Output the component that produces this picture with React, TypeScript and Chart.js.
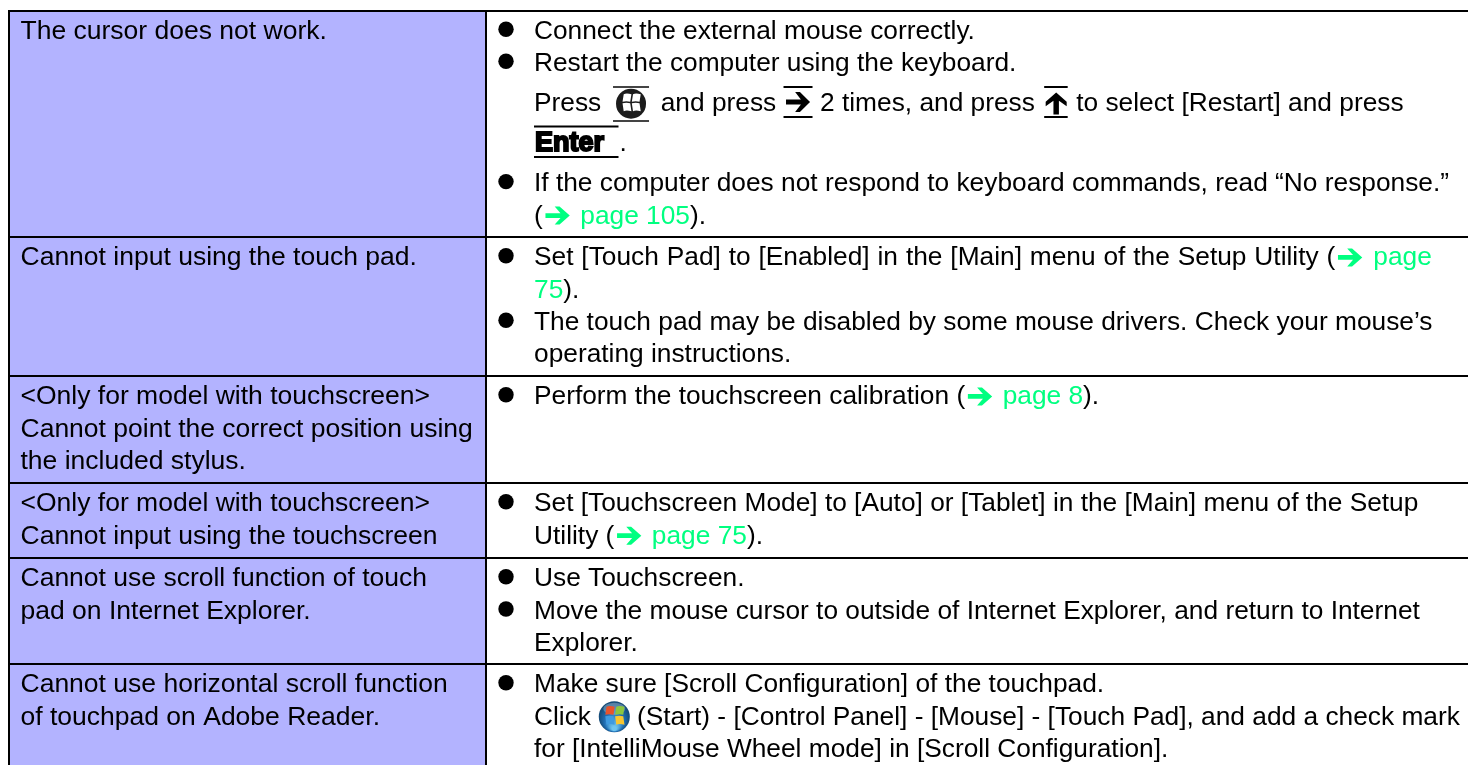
import React, { useEffect, useRef } from "react";
import { Chart, registerables } from "chart.js";

Chart.register(...registerables);

// ---- table content -----------------------------------------------------
const columnEdges = [9, 486, 1468];
const rowEdges = [11, 237, 376, 483, 558, 664, 765];

const problems: string[][] = [
  ["The cursor does not work."],
  ["Cannot input using the touch pad."],
  ["<Only for model with touchscreen>", "Cannot point the correct position using", "the included stylus."],
  ["<Only for model with touchscreen>", "Cannot input using the touchscreen"],
  ["Cannot use scroll function of touch", "pad on Internet Explorer."],
  ["Cannot use horizontal scroll function", "of touchpad on Adobe Reader."],
];

// "* " marks a bulleted line. {x} marks an inline symbol or a coloured run.
const remedies: string[][] = [
  [
    "* Connect the external mouse correctly.",
    "* Restart the computer using the keyboard.",
    "Press {win}and press {right}2 times, and press {up}to select [Restart] and press",
    "{enter}.",
    "* If the computer does not respond to keyboard commands, read “No response.”",
    "({arrow}{g: page 105}).",
  ],
  [
    "* Set [Touch Pad] to [Enabled] in the [Main] menu of the Setup Utility ({arrow}{g: page}",
    "{g:75}).",
    "* The touch pad may be disabled by some mouse drivers. Check your mouse’s",
    "operating instructions.",
  ],
  ["* Perform the touchscreen calibration ({arrow}{g: page 8})."],
  [
    "* Set [Touchscreen Mode] to [Auto] or [Tablet] in the [Main] menu of the Setup",
    "Utility ({arrow}{g: page 75}).",
  ],
  [
    "* Use Touchscreen.",
    "* Move the mouse cursor to outside of Internet Explorer, and return to Internet",
    "Explorer.",
  ],
  [
    "* Make sure [Scroll Configuration] of the touchpad.",
    "Click {start}(Start) - [Control Panel] - [Mouse] - [Touch Pad], and add a check mark",
    "for [IntelliMouse Wheel mode] in [Scroll Configuration].",
  ],
];

// ---- styling / layout ---------------------------------------------------
const W = 1468;
const H = 765;
const FONT = "26.3px 'Liberation Sans', Arial, sans-serif";
const LEFT_FONT = "26.5px 'Liberation Sans', Arial, sans-serif";
const PURPLE = "#b3b3ff";
const GREEN = "#00ff80";
const LINE_STEP = 32.3;
const FIRST_BASELINE = 28.4;
const TEXT_LEFT = 20.5;
const BULLET_X = 506;
const BODY_LEFT = 534;
const BULLET_LIFT = 9.7;
// first row has taller lines around the keyboard symbols
const FIRST_ROW_BASELINES = [39, 71, 111, 151, 191.3, 223.6];
// this one line is set wider in the reference
const WIDE_LINE = { row: 1, line: 0, wordSpacing: "0.58px" };

const ARROW: [number, number][] = [
  [0, 0.37], [0.62, 0.37], [0.38, 0], [0.58, 0], [1, 0.5], [0.58, 1], [0.38, 1], [0.62, 0.63], [0, 0.63],
];

function arrowPath(ctx: CanvasRenderingContext2D, x: number, y: number, w: number, h: number, up: boolean) {
  ctx.beginPath();
  ARROW.forEach(([u, v], i) => {
    const px = up ? x + v * w : x + u * w;
    const py = up ? y + (1 - u) * h : y + v * h;
    if (i === 0) ctx.moveTo(px, py);
    else ctx.lineTo(px, py);
  });
  ctx.closePath();
  ctx.fill();
}

function hRule(ctx: CanvasRenderingContext2D, x0: number, x1: number, y: number, h = 2) {
  ctx.fillRect(x0, y - h / 2, x1 - x0, h);
}

function pane(ctx: CanvasRenderingContext2D, cx: number, cy: number, sx: number, sy: number, s: number, fill: string) {
  ctx.fillStyle = fill;
  ctx.beginPath();
  ctx.moveTo(cx + sx * 0.8, cy + sy * 0.8 - 1.2);
  ctx.quadraticCurveTo(cx + sx * s * 0.55, cy + sy * 0.8 - 2.2, cx + sx * s, cy + sy * 0.8 - 1.2);
  ctx.lineTo(cx + sx * s + 1.2, cy + sy * s - 1);
  ctx.quadraticCurveTo(cx + sx * s * 0.55, cy + sy * s - 2.2, cx + sx * 0.8 + 1.2, cy + sy * s - 1);
  ctx.closePath();
  ctx.fill();
}

function drawWinKey(ctx: CanvasRenderingContext2D, x: number, base: number) {
  const cx = x + 18;
  const cy = base - 7.3;
  ctx.fillStyle = "#444";
  hRule(ctx, x, x + 36, base - 24);
  hRule(ctx, x, x + 36, base + 10);
  ctx.fillStyle = "#1c1c1c";
  ctx.beginPath();
  ctx.arc(cx, cy, 15, 0, Math.PI * 2);
  ctx.fill();
  for (const [sx, sy] of [[-1, -1], [1, -1], [-1, 1], [1, 1]]) pane(ctx, cx, cy, sx, sy, 8.5, "#fff");
  ctx.fillStyle = "#000";
}

function drawStartOrb(ctx: CanvasRenderingContext2D, x: number, base: number) {
  const cx = x + 16;
  const cy = base - 8;
  const g = ctx.createRadialGradient(cx, cy + 12, 2, cx, cy, 16);
  g.addColorStop(0, "#6fc6f0");
  g.addColorStop(0.55, "#1f6fb5");
  g.addColorStop(1, "#13466f");
  ctx.fillStyle = g;
  ctx.beginPath();
  ctx.arc(cx, cy, 15.5, 0, Math.PI * 2);
  ctx.fill();
  ctx.fillStyle = "rgba(255,255,255,0.28)";
  ctx.beginPath();
  ctx.ellipse(cx, cy - 8, 11, 6, 0, 0, Math.PI * 2);
  ctx.fill();
  pane(ctx, cx, cy, -1, -1, 9, "#e8532b");
  pane(ctx, cx, cy, 1, -1, 9, "#8cc63f");
  pane(ctx, cx, cy, -1, 1, 9, "#3f9be0");
  pane(ctx, cx, cy, 1, 1, 9, "#f8c630");
  ctx.fillStyle = "#000";
}

// draws one line of text with its inline tokens
function drawRich(ctx: CanvasRenderingContext2D, raw: string, startX: number, base: number) {
  let x = startX;
  const parts = raw.split(/(\{[^}]*\})/).filter(Boolean);
  for (const part of parts) {
    if (!part.startsWith("{")) {
      ctx.fillStyle = "#000";
      ctx.fillText(part, x, base);
      x += ctx.measureText(part).width;
      continue;
    }
    const tok = part.slice(1, -1);
    if (tok.startsWith("g:")) {
      const t = tok.slice(2);
      ctx.fillStyle = GREEN;
      ctx.fillText(t, x, base);
      x += ctx.measureText(t).width;
      ctx.fillStyle = "#000";
    } else if (tok === "arrow") {
      ctx.fillStyle = GREEN;
      arrowPath(ctx, x + 2.7, base - 17, 24.3, 18, false);
      x += 30.2;
      ctx.fillStyle = "#000";
    } else if (tok === "win") {
      drawWinKey(ctx, x + 4.5, base);
      x += 52.2;
    } else if (tok === "right") {
      ctx.fillStyle = "#000";
      hRule(ctx, x, x + 29, base - 24);
      hRule(ctx, x, x + 29, base + 6);
      arrowPath(ctx, x + 2.5, base - 19, 24, 20, false);
      x += 36.5;
    } else if (tok === "up") {
      ctx.fillStyle = "#000";
      hRule(ctx, x + 2, x + 25.5, base - 24);
      hRule(ctx, x + 2, x + 25.5, base + 6);
      arrowPath(ctx, x + 3.5, base - 18.5, 21, 22, true);
      x += 34;
    } else if (tok === "enter") {
      ctx.fillStyle = "#000";
      hRule(ctx, x, x + 84.5, base - 24.5);
      hRule(ctx, x, x + 84.5, base + 6);
      ctx.save();
      ctx.font = "bold 27px 'Liberation Sans', Arial, sans-serif";
      ctx.lineWidth = 2;
      ctx.strokeStyle = "#000";
      ctx.strokeText("Enter", x + 1, base - 0.5, 82);
      ctx.fillText("Enter", x + 1, base - 0.5, 82);
      ctx.restore();
      x += 85.5;
    } else if (tok === "start") {
      drawStartOrb(ctx, x, base);
      x += 38.7;
    }
  }
}

const tableText = {
  id: "tableText",
  afterDatasetsDraw(chart: Chart) {
    const { ctx, scales } = chart;
    const sx = scales.x;
    const sy = scales.y;
    ctx.save();
    ctx.textBaseline = "alphabetic";
    ctx.textAlign = "left";
    ctx.fillStyle = "#000";
    rowEdges.slice(0, -1).forEach((edge, r) => {
      const top = sy.getPixelForValue(edge);
      const baseline = (i: number) =>
        r === 0 ? FIRST_ROW_BASELINES[i] : top + FIRST_BASELINE + i * LINE_STEP;
      ctx.font = LEFT_FONT;
      problems[r].forEach((line, i) => {
        ctx.fillStyle = "#000";
        ctx.fillText(line, sx.getPixelForValue(TEXT_LEFT), baseline(i));
      });
      ctx.font = FONT;
      remedies[r].forEach((line, i) => {
        const b = baseline(i);
        let text = line;
        if (line.startsWith("* ")) {
          text = line.slice(2);
          ctx.fillStyle = "#000";
          ctx.beginPath();
          ctx.arc(sx.getPixelForValue(BULLET_X), b - BULLET_LIFT, 7.7, 0, Math.PI * 2);
          ctx.fill();
        }
        const wide = r === WIDE_LINE.row && i === WIDE_LINE.line;
        (ctx as any).wordSpacing = wide ? WIDE_LINE.wordSpacing : "0px";
        drawRich(ctx, text, sx.getPixelForValue(BODY_LEFT), b);
        (ctx as any).wordSpacing = "0px";
      });
    });
    ctx.restore();
  },
};

export default function App() {
  const ref = useRef<HTMLCanvasElement>(null);

  useEffect(() => {
    if (!ref.current) return;
    const ruleStyle = {
      type: "scatter" as const,
      showLine: true,
      borderColor: "#000",
      borderWidth: 2,
      pointRadius: 0,
      clip: false,
      order: 0,
    };
    const lastRow = rowEdges[rowEdges.length - 1];
    const datasets: any[] = [
      {
        type: "line",
        label: "problem column",
        order: 10,
        data: [
          { x: columnEdges[0], y: lastRow },
          { x: columnEdges[1], y: lastRow },
        ],
        borderWidth: 0,
        pointRadius: 0,
        backgroundColor: PURPLE,
        fill: { value: rowEdges[0] },
      },
      ...rowEdges.slice(0, -1).map((y) => ({
        ...ruleStyle,
        data: [
          { x: columnEdges[0] - 1, y },
          { x: columnEdges[2], y },
        ],
      })),
      ...columnEdges.slice(0, 2).map((x) => ({
        ...ruleStyle,
        data: [
          { x, y: rowEdges[0] },
          { x, y: lastRow },
        ],
      })),
    ];
    const chart = new Chart(ref.current, {
      type: "scatter",
      data: { datasets },
      options: {
        animation: false,
        responsive: false,
        maintainAspectRatio: false,
        layout: { padding: 0 },
        plugins: { legend: { display: false }, tooltip: { enabled: false }, title: { display: false } },
        scales: {
          x: { type: "linear", min: 0, max: W, display: false },
          y: { type: "linear", min: 0, max: H, reverse: true, display: false },
        },
      },
      plugins: [tableText],
    });
    return () => chart.destroy();
  }, []);

  return (
    <div style={{ position: "fixed", left: 0, top: 0, width: W, height: H, background: "#fff", overflow: "hidden" }}>
      <canvas ref={ref} width={W} height={H} style={{ display: "block", width: W, height: H }} />
    </div>
  );
}
